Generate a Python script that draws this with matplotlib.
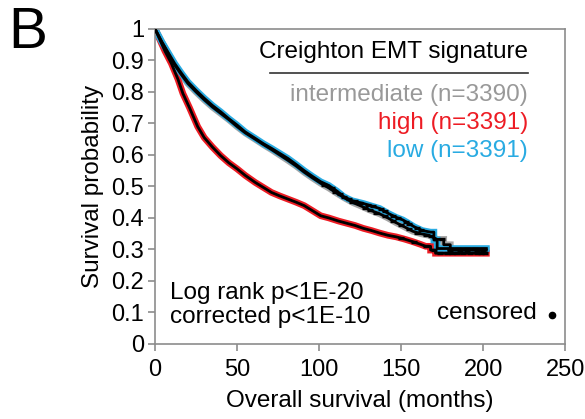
import numpy as np
import matplotlib
matplotlib.use("Agg")
import matplotlib.pyplot as plt

plt.rcParams['font.family'] = ['Liberation Sans', 'DejaVu Sans']

# Kaplan-Meier curves (months, survival)
high_t = [0, 3, 6, 10, 14, 17, 21, 26, 30, 35, 40, 45, 50, 55, 61, 66, 71, 76, 81, 86,
          91, 96, 101, 106, 112, 117, 122, 127, 132, 137, 142, 147, 152, 157, 162, 165,
          168, 168, 171, 171, 175, 202]
high_s = [1, 0.965, 0.93, 0.89, 0.84, 0.795, 0.75, 0.69, 0.655, 0.625, 0.598, 0.575,
          0.556, 0.535, 0.513, 0.497, 0.481, 0.470, 0.460, 0.450, 0.439, 0.423, 0.407,
          0.400, 0.39, 0.383, 0.376, 0.367, 0.36, 0.352, 0.345, 0.34, 0.333, 0.325,
          0.316, 0.31, 0.31, 0.298, 0.298, 0.288, 0.288, 0.288]

low_t = [0, 4, 8, 12, 16, 20, 25, 30, 35, 40, 45, 50, 55, 61, 66, 71, 76, 81, 86, 91,
         96, 101, 106, 111, 115, 120, 127, 132, 137, 142, 147, 151, 154, 158, 163, 168,
         170, 170, 172, 172, 202]
low_s = [1, 0.96, 0.925, 0.89, 0.86, 0.832, 0.805, 0.78, 0.757, 0.737, 0.715, 0.695,
         0.673, 0.653, 0.636, 0.621, 0.605, 0.589, 0.57, 0.55, 0.532, 0.515, 0.503,
         0.485, 0.468, 0.455, 0.446, 0.438, 0.43, 0.415, 0.402, 0.394, 0.385, 0.372,
         0.36, 0.355, 0.355, 0.33, 0.33, 0.303, 0.303]

mid_t = [0, 4, 8, 12, 16, 20, 25, 30, 35, 40, 45, 50, 55, 61, 66, 71, 76, 81, 86, 91,
         96, 101, 106, 111, 116, 121, 126, 131, 137, 142, 147, 152, 157, 162, 167, 172,
         176, 176, 180, 180, 202]
mid_s = [1, 0.96, 0.922, 0.885, 0.855, 0.827, 0.8, 0.775, 0.752, 0.732, 0.712, 0.69,
         0.67, 0.65, 0.633, 0.617, 0.6, 0.583, 0.565, 0.545, 0.527, 0.51, 0.495, 0.478,
         0.462, 0.448, 0.437, 0.425, 0.413, 0.4, 0.385, 0.372, 0.358, 0.35, 0.345,
         0.332, 0.332, 0.315, 0.315, 0.298, 0.298]

# censored times
high_c = [150, 158, 165, 170, 174, 178, 181, 184, 188, 192, 196, 199, 201]
low_c = [108, 113, 118, 122, 125, 130, 133, 138, 140, 145, 148, 153, 155, 160, 162,
         180, 185, 190, 195, 200]
mid_c = [103, 110, 115, 120, 128, 131, 135, 140, 145, 150, 155, 160, 165, 168, 175,
         180, 186, 190, 196, 200]

groups = [
    ("intermediate (n=3390)", mid_t, mid_s, mid_c, "#a6a6a6", "#999999"),
    ("high (n=3391)", high_t, high_s, high_c, "#ed1c24", "#ed1c24"),
    ("low (n=3391)", low_t, low_s, low_c, "#29abe2", "#29abe2"),
]

fig = plt.figure(figsize=(5.85, 4.19), dpi=100)
ax = fig.add_axes([0.265, 0.179, 0.701, 0.752])

# coloured underlay, then black line on top
for name, t, s, c, col, tcol in groups:
    ax.plot(t, s, color=col, lw=4.8, solid_joinstyle="miter", zorder=2)
for name, t, s, c, col, tcol in groups:
    ax.plot(t, s, color="black", lw=2.0, zorder=3)
    ax.plot(c, np.interp(c, t, s), linestyle="none", marker="_", color="black",
            markersize=5, markeredgewidth=2.4, zorder=4)

ax.set_xlim(0, 250)
ax.set_ylim(0, 1)
ax.set_xticks(np.arange(0, 251, 50))
ax.set_yticks(np.arange(0, 1.01, 0.1))
ax.set_yticklabels(["0"] + ["%.1f" % v for v in np.arange(0.1, 0.95, 0.1)] + ["1"])
for sp in ax.spines.values():
    sp.set_color("#8c8c8c")
    sp.set_linewidth(1.2)
ax.tick_params(direction="out", length=5, width=1.2, color="#8c8c8c",
               labelsize=17, pad=3)
ax.tick_params(axis="x", pad=6)
ax.set_xlabel("Overall survival (months)", fontsize=17.5, labelpad=6)
ax.set_ylabel("Survival probability", fontsize=17.5, labelpad=5)

# legend block
ax.text(0.91, 0.927, "Creighton EMT signature", transform=ax.transAxes,
        ha="right", va="center", fontsize=17.5)
ax.plot([0.28, 0.91], [0.86, 0.86], transform=ax.transAxes, color="#333333", lw=1.2)
for i, (name, t, s, c, col, tcol) in enumerate(groups):
    ax.text(0.91, 0.79 - i * 0.0885, name, transform=ax.transAxes, ha="right",
            va="center", fontsize=17.5, color=tcol)

ax.text(0.037, 0.124, "Log rank p<1E-20\ncorrected p<1E-10", transform=ax.transAxes,
        ha="left", va="center", fontsize=17.5, linespacing=1.15)
ax.text(0.932, 0.098, "censored", transform=ax.transAxes, ha="right", va="center",
        fontsize=17.5)
ax.plot([0.968], [0.093], transform=ax.transAxes, marker="o", color="black",
        markersize=4.5, linestyle="none")

fig.text(0.014, 0.985, "B", fontsize=42, ha="left", va="top")

fig.savefig("out.png", dpi=100)
